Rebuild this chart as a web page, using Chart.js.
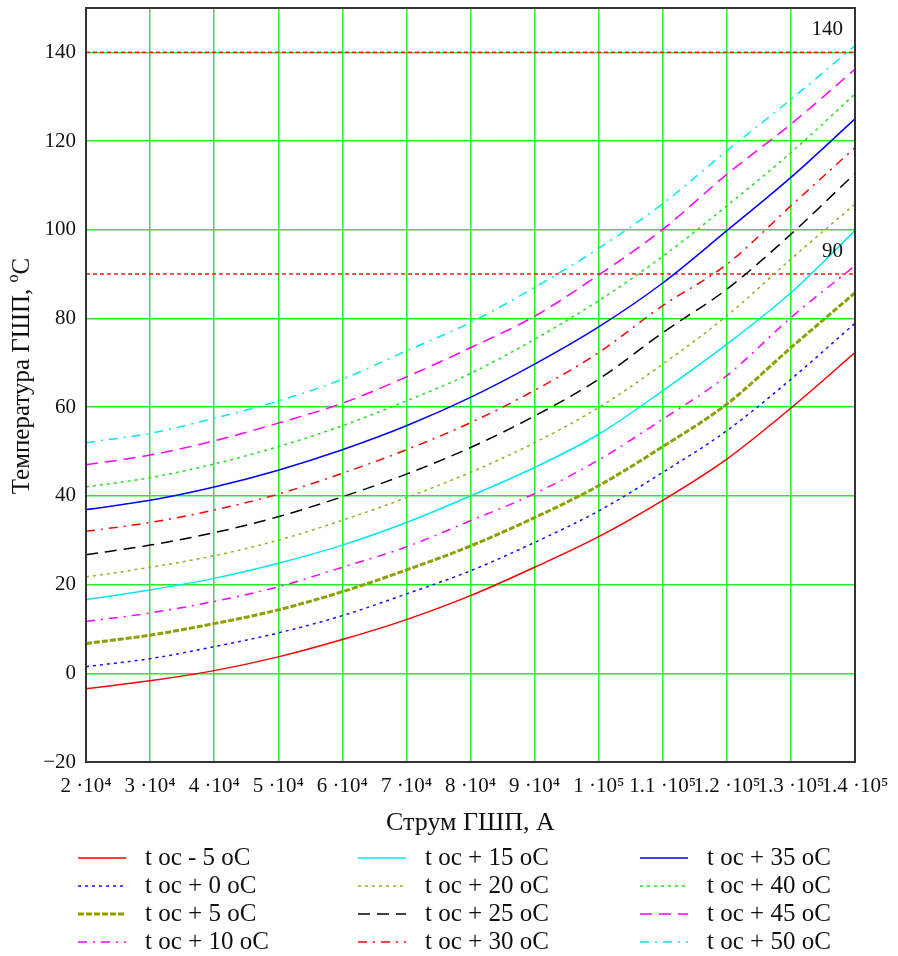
<!DOCTYPE html>
<html lang="uk">
<head>
    <meta charset="UTF-8">
    <title>Температура ГШП</title>
    <script src="https://cdn.jsdelivr.net/npm/chart.js"></script>
    <style>
        body { margin: 0; background: #fff; }
        #wrap { width: 898px; height: 956px; }
    </style>
</head>
<body>
    <div id="wrap"><canvas id="tempChart"></canvas></div>

    <script>
        // струм, А
        const current = [20000, 30000, 40000, 50000, 60000, 70000, 80000, 90000, 100000, 110000, 120000, 130000, 140000];

        // температура ГШП для різних t oc
        const tMinus5 = [-3.5, -1.7, 0.6, 3.7, 7.6, 12.1, 17.5, 23.9, 30.8, 39.0, 48.3, 59.8, 72.3];
        const tPlus0  = [1.5, 3.3, 6.0, 9.1, 13.0, 17.9, 23.1, 29.5, 36.6, 45.3, 54.7, 66.3, 78.9];
        const tPlus5  = [6.7, 8.6, 11.2, 14.3, 18.4, 23.3, 28.7, 35.1, 42.3, 51.1, 60.7, 73.4, 85.8];
        const tPlus10 = [11.7, 13.6, 16.2, 19.5, 23.9, 28.5, 34.4, 40.5, 48.1, 57.3, 67.1, 80.2, 91.9];
        const tPlus15 = [16.6, 18.8, 21.4, 24.8, 28.9, 34.0, 40.0, 46.4, 53.9, 63.7, 74.2, 85.8, 99.8];
        const tPlus20 = [21.7, 23.9, 26.5, 30.0, 34.5, 39.6, 45.3, 52.0, 59.9, 69.7, 80.6, 93.4, 105.8];
        const tPlus25 = [26.7, 28.9, 31.7, 35.3, 39.8, 44.9, 50.9, 58.0, 66.3, 76.8, 86.6, 99.0, 112.7];
        const tPlus30 = [32.0, 34.0, 36.8, 40.4, 45.1, 50.4, 56.5, 63.8, 72.3, 82.9, 92.2, 105.4, 118.5];
        const tPlus35 = [36.9, 39.0, 42.0, 45.8, 50.4, 55.8, 62.2, 69.7, 78.1, 88.0, 99.8, 111.8, 125.0];
        const tPlus40 = [42.0, 44.1, 47.2, 51.1, 55.8, 61.4, 67.6, 75.3, 84.0, 94.0, 105.4, 117.4, 130.6];
        const tPlus45 = [47.0, 49.2, 52.4, 56.4, 60.9, 66.8, 73.4, 80.5, 89.8, 100.1, 112.5, 123.8, 136.2];
        const tPlus50 = [52.0, 54.1, 57.5, 61.4, 66.3, 72.7, 79.1, 87.0, 95.8, 105.9, 117.8, 129.4, 141.5];

        // граничні температури
        const limits = [140, 90];

        const xTickValues = [20000, 30000, 40000, 50000, 60000, 70000, 80000, 90000, 100000, 110000, 120000, 130000, 140000];
        const xTickLabels = ['2 ·10⁴', '3 ·10⁴', '4 ·10⁴', '5 ·10⁴', '6 ·10⁴', '7 ·10⁴', '8 ·10⁴', '9 ·10⁴', '1 ·10⁵', '1.1 ·10⁵', '1.2 ·10⁵', '1.3 ·10⁵', '1.4 ·10⁵'];
        const yTickValues = [-20, 0, 20, 40, 60, 80, 100, 120, 140];

        const serif = '"Liberation Serif", "Times New Roman", serif';
        const gridGreen = '#2aea2a';

        function series(label, values, color, width, dash) {
            return {
                label: label,
                data: values.map((v, i) => ({ x: current[i], y: v })),
                borderColor: color,
                borderWidth: width,
                borderDash: dash,
                pointRadius: 0,
                cubicInterpolationMode: 'monotone',
                fill: false
            };
        }

        function limitLine(value) {
            return {
                label: String(value),
                isLimit: true,
                data: [{ x: current[0], y: value }, { x: current[current.length - 1], y: value }],
                borderColor: '#ff1a1a',
                borderWidth: 1.5,
                borderDash: [4, 3],
                pointRadius: 0
            };
        }

        const datasets = [
            series('t oc - 5 oC',  tMinus5, '#ff0000', 1.5, []),
            series('t oc + 0 oC',  tPlus0,  '#1010ff', 1.5, [3, 4]),
            series('t oc + 5 oC',  tPlus5,  '#8ca000', 3,   [6, 2]),
            series('t oc + 10 oC', tPlus10, '#ff00ff', 1.5, [9, 6, 2, 6]),
            series('t oc + 15 oC', tPlus15, '#00e8f0', 1.5, []),
            series('t oc + 20 oC', tPlus20, '#9aad1f', 1.5, [3, 4]),
            series('t oc + 25 oC', tPlus25, '#000000', 1.5, [12, 7]),
            series('t oc + 30 oC', tPlus30, '#ff0000', 1.5, [9, 6, 2, 6]),
            series('t oc + 35 oC', tPlus35, '#0000ff', 1.5, []),
            series('t oc + 40 oC', tPlus40, '#22e022', 1.5, [3, 4]),
            series('t oc + 45 oC', tPlus45, '#ff00ff', 1.5, [12, 7]),
            series('t oc + 50 oC', tPlus50, '#00e8f0', 1.5, [9, 6, 2, 6]),
            limitLine(limits[0]),
            limitLine(limits[1])
        ];

        // рамка, підписи граничних ліній, назва осі Y та легенда в три колонки
        const decorPlugin = {
            id: 'decor',
            afterDraw(chart) {
                const ctx = chart.ctx;
                const area = chart.chartArea;
                const yScale = chart.scales.y;
                ctx.save();

                ctx.strokeStyle = '#333';
                ctx.lineWidth = 2;
                ctx.setLineDash([]);
                ctx.strokeRect(area.left, area.top, area.right - area.left, area.bottom - area.top);

                ctx.fillStyle = '#111';
                ctx.font = '21px ' + serif;
                ctx.textAlign = 'right';
                ctx.textBaseline = 'middle';
                limits.forEach(v => {
                    ctx.fillText(String(v), area.right - 12, yScale.getPixelForValue(v) - 23);
                });

                // Температура ГШП, °C з піднятим "o"
                ctx.translate(21, 376);
                ctx.rotate(-Math.PI / 2);
                const main = 'Температура ГШП, ';
                ctx.font = '25px ' + serif;
                const wMain = ctx.measureText(main).width;
                const wC = ctx.measureText('C').width;
                ctx.font = '16px ' + serif;
                const wO = ctx.measureText('o').width;
                let x = -(wMain + wO + wC) / 2;
                ctx.textAlign = 'left';
                ctx.textBaseline = 'alphabetic';
                ctx.font = '25px ' + serif;
                ctx.fillText(main, x, 8);
                x += wMain;
                ctx.font = '16px ' + serif;
                ctx.fillText('o', x, -3);
                x += wO;
                ctx.font = '25px ' + serif;
                ctx.fillText('C', x, 8);
                ctx.setTransform(1, 0, 0, 1, 0, 0);

                const cols = [78, 358, 640];
                const rows = [858, 886, 914, 942];
                ctx.textAlign = 'left';
                ctx.textBaseline = 'middle';
                chart.data.datasets.forEach((ds, i) => {
                    if (ds.isLimit) return;
                    const x0 = cols[Math.floor(i / 4)];
                    const y0 = rows[i % 4];
                    ctx.strokeStyle = ds.borderColor;
                    ctx.lineWidth = ds.borderWidth;
                    ctx.setLineDash(ds.borderDash);
                    ctx.beginPath();
                    ctx.moveTo(x0, y0);
                    ctx.lineTo(x0 + 48, y0);
                    ctx.stroke();
                    ctx.setLineDash([]);
                    ctx.fillStyle = '#111';
                    ctx.font = '25px ' + serif;
                    ctx.fillText(ds.label, x0 + 67, y0);
                });
                ctx.restore();
            }
        };

        const ctx = document.getElementById('tempChart').getContext('2d');
        const chart = new Chart(ctx, {
            type: 'line',
            data: { datasets: datasets },
            options: {
                responsive: true,
                maintainAspectRatio: false,
                animation: false,
                layout: { padding: { left: 0, top: 8, right: 43, bottom: 116 } },
                plugins: {
                    legend: { display: false },
                    tooltip: { enabled: false }
                },
                scales: {
                    x: {
                        type: 'linear',
                        min: 20000,
                        max: 140000,
                        afterBuildTicks: axis => { axis.ticks = xTickValues.map(v => ({ value: v })); },
                        afterFit: axis => {
                            axis.height = 78;
                            axis.paddingLeft = 0;
                            axis.paddingRight = 0;
                        },
                        ticks: {
                            autoSkip: false,
                            maxRotation: 0,
                            padding: 12,
                            color: '#111',
                            font: { family: serif, size: 21 },
                            callback: (value) => xTickLabels[xTickValues.indexOf(value)]
                        },
                        grid: { color: gridGreen, lineWidth: 1.5, drawTicks: false },
                        border: { color: '#444', width: 2 },
                        title: {
                            display: true,
                            text: 'Струм ГШП, А',
                            color: '#111',
                            font: { family: serif, size: 26 },
                            padding: { top: 4, bottom: 1 }
                        }
                    },
                    y: {
                        min: -20,
                        max: 150,
                        afterBuildTicks: axis => { axis.ticks = yTickValues.map(v => ({ value: v })); },
                        afterFit: axis => {
                            axis.width = 86;
                            axis.paddingTop = 0;
                            axis.paddingBottom = 0;
                        },
                        ticks: {
                            padding: 10,
                            color: '#111',
                            font: { family: serif, size: 21 },
                            callback: (value) => value < 0 ? '\u2212' + Math.abs(value) : String(value)
                        },
                        grid: { color: gridGreen, lineWidth: 1.5, drawTicks: false },
                        border: { color: '#222', width: 2 }
                    }
                }
            },
            plugins: [decorPlugin]
        });
    </script>
</body>
</html>
